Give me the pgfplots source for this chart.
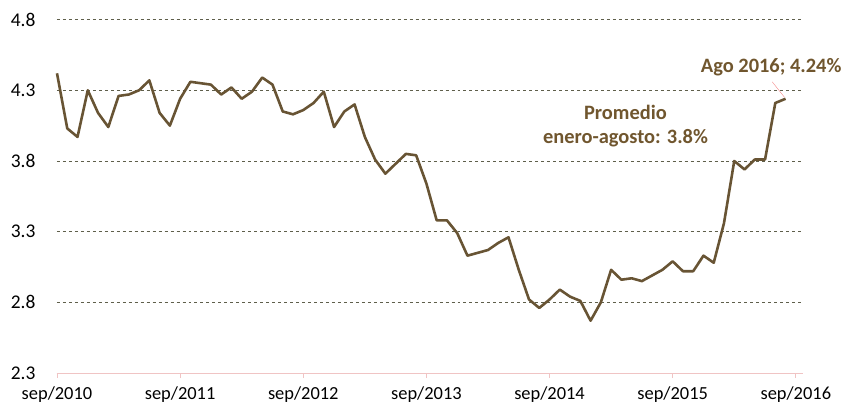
\documentclass[border=0pt]{standalone}
\usepackage{pgfplots}
\pgfplotsset{compat=1.18}
\usepackage{fontspec}
\setmainfont{Carlito}
\definecolor{linec}{RGB}{104,84,52}
\definecolor{textc}{RGB}{112,86,46}
\definecolor{gridc}{RGB}{95,95,75}
\definecolor{axc}{RGB}{240,196,196}
\begin{document}
\begin{tikzpicture}
\begin{axis}[
  at={(0,0)}, anchor=origin,
  scale only axis,
  width=746bp, height=353.4bp,
  xmin=0, xmax=72.7,
  ymin=2.3, ymax=4.8,
  axis y line*=left,
  axis x line*=bottom,
  y axis line style={draw=none},
  x axis line style={draw=axc, line width=0.8pt},
  ytick={2.3,2.8,3.3,3.8,4.3,4.8},
  yticklabels={2.3,2.8,3.3,3.8,4.3,4.8},
  major y tick style={draw=none},
  ymajorgrids,
  y grid style={gridc, dashed, line width=0.6pt},
  xtick={0,12,24,36,48,60,72},
  xticklabels={sep/2010,sep/2011,sep/2012,sep/2013,sep/2014,sep/2015,sep/2016},
  major x tick style={draw=axc, line width=0.8pt},
  tick align=outside,
  major tick length=5bp,
  ticklabel style={font=\fontsize{18.5}{22}\selectfont, text=black},
  yticklabel style={xshift=-13bp, font=\fontsize{19.5}{22}\selectfont},
  xticklabel style={yshift=-5bp},
  /pgf/number format/assume math mode=true,
  clip=false,
]
\addplot[linec, line width=2.6pt, line join=round] coordinates {
(0,4.42) (1,4.03) (2,3.97) (3,4.30) (4,4.14) (5,4.04) (6,4.26) (7,4.27)
(8,4.30) (9,4.37) (10,4.14) (11,4.05) (12,4.24) (13,4.36) (14,4.35) (15,4.34)
(16,4.27) (17,4.32) (18,4.24) (19,4.29) (20,4.39) (21,4.34) (22,4.15) (23,4.13)
(24,4.16) (25,4.21) (26,4.29) (27,4.04) (28,4.15) (29,4.20) (30,3.97) (31,3.81)
(32,3.71) (33,3.78) (34,3.85) (35,3.84) (36,3.64) (37,3.38) (38,3.38) (39,3.29)
(40,3.13) (41,3.15) (42,3.17) (43,3.22) (44,3.26) (45,3.03) (46,2.82) (47,2.76)
(48,2.82) (49,2.89) (50,2.84) (51,2.81) (52,2.67) (53,2.80) (54,3.03) (55,2.96)
(56,2.97) (57,2.95) (58,2.99) (59,3.03) (60,3.09) (61,3.02) (62,3.02) (63,3.13)
(64,3.08) (65,3.36) (66,3.80) (67,3.74) (68,3.81) (69,3.81) (70,4.21) (71,4.24)
};
\draw[axc!70!red, line width=0.4pt] (axis cs:69.7,4.36) -- (axis cs:70.9,4.25);
\node[text=textc, font=\fontsize{20.5}{24}\selectfont\bfseries, align=center]
  at (axis cs:55.4,4.05) {Promedio\\enero-agosto: 3.8\%};
\node[text=textc, font=\fontsize{20.5}{24}\selectfont\bfseries]
  at (axis cs:69.6,4.46) {Ago 2016; 4.24\%};
\end{axis}
\pgfresetboundingbox
\path[use as bounding box] (-57bp,-35bp) rectangle (789bp,373bp);
\end{tikzpicture}
\end{document}
